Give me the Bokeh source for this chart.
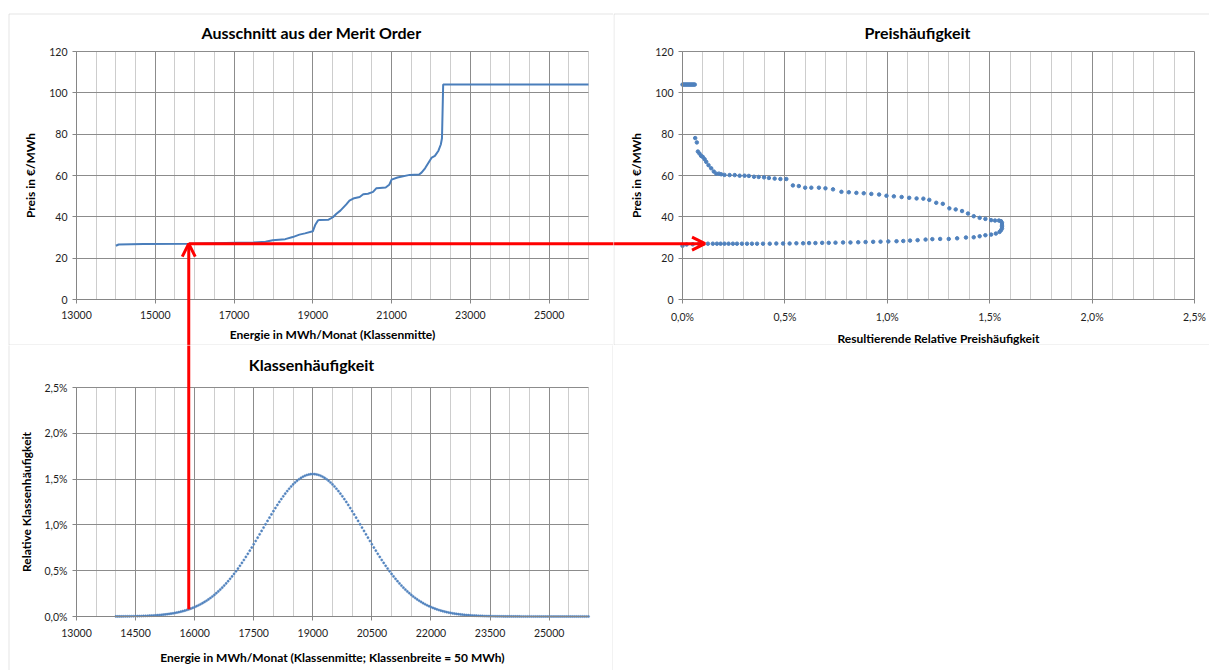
from bokeh.plotting import figure
from bokeh.layouts import column, row
from bokeh.models import (FixedTicker, Range1d, Arrow, OpenHead, BoxAnnotation,
                          CustomJSTickFormatter, Label)
from bokeh.embed import file_html
from bokeh.resources import INLINE

# ---------------- data ----------------
# Merit order (Energie in MWh/Monat, Preis in EUR/MWh)
mo_energie = [14000, 14070, 14700, 15850, 17100, 17500, 17800, 17980, 18300, 18490,
              18660, 18800, 19000, 19060, 19130, 19170, 19400, 19510, 19600, 19700,
              19850, 19930, 20050, 20190, 20280, 20400, 20530, 20610, 20700, 20850,
              20940, 21000, 21150, 21460, 21700, 21760, 21850, 22020, 22100, 22190,
              22250, 22280, 22310, 26000]
mo_preis = [26.0, 26.6, 26.9, 27.0, 27.5, 27.6, 27.9, 28.7, 29.2, 30.2,
            31.4, 32.0, 33.0, 36.0, 38.2, 38.5, 38.6, 39.8, 41.5, 43.0,
            46.0, 47.8, 49.0, 49.6, 50.9, 51.2, 52.1, 53.8, 54.0, 54.2,
            55.5, 58.0, 59.0, 60.3, 60.5, 61.4, 63.5, 68.7, 69.5, 72.0,
            75.0, 78.0, 104.0, 104.0]

# Resultierende relative Preishaeufigkeit (in %) and price (EUR/MWh)
ph_haeufigkeit = [0.000, 0.005, 0.010, 0.015, 0.020, 0.025, 0.030, 0.035, 0.040, 0.045, 0.050, 0.055, 0.060,
                  0.062, 0.070, 0.075, 0.083, 0.091, 0.099, 0.108, 0.116, 0.127, 0.140, 0.153, 0.165,
                  0.178, 0.189, 0.205, 0.230, 0.255, 0.279, 0.303, 0.324, 0.349, 0.372, 0.398, 0.422,
                  0.450, 0.478, 0.507, 0.539, 0.568, 0.599, 0.629, 0.666, 0.698, 0.735, 0.776, 0.812,
                  0.849, 0.885, 0.922, 0.960, 0.996, 1.032, 1.070, 1.107, 1.143, 1.176, 1.205, 1.239,
                  1.271, 1.303, 1.334, 1.365, 1.394, 1.422, 1.451, 1.479, 1.507, 1.526, 1.545, 1.555,
                  1.560, 1.560, 1.560, 1.560, 1.555, 1.548, 1.530, 1.507, 1.479, 1.451, 1.422, 1.384,
                  1.341, 1.300, 1.258, 1.220, 1.187, 1.148, 1.111, 1.078, 1.045, 1.005, 0.967, 0.931,
                  0.894, 0.858, 0.820, 0.784, 0.747, 0.714, 0.682, 0.649, 0.618, 0.589, 0.556, 0.523,
                  0.491, 0.458, 0.426, 0.393, 0.364, 0.339, 0.315, 0.290, 0.266, 0.246, 0.225, 0.205,
                  0.186, 0.168, 0.148, 0.124, 0.100, 0.080, 0.050, 0.020, 0.000]
ph_preis = [104.0, 104.0, 104.0, 104.0, 104.0, 104.0, 104.0, 104.0, 104.0, 104.0, 104.0, 104.0, 104.0,
            78.1, 76.0, 71.6, 70.6, 69.5, 69.0, 67.9, 66.6, 65.0, 63.5, 61.9, 60.9,
            60.9, 60.6, 60.3, 60.2, 60.2, 59.9, 59.9, 59.8, 59.4, 59.3, 59.1, 58.8,
            58.5, 58.3, 58.3, 55.2, 54.9, 54.1, 54.1, 54.1, 53.8, 53.3, 52.1, 51.9,
            51.6, 51.4, 51.1, 50.8, 50.2, 49.9, 49.6, 49.2, 48.9, 48.8, 48.2, 46.8,
            46.3, 44.1, 43.6, 42.8, 41.6, 40.3, 39.5, 39.0, 38.4, 38.2, 38.2, 37.9,
            37.1, 36.0, 35.2, 34.4, 33.5, 32.7, 31.9, 31.4, 31.1, 30.6, 30.1, 30.0,
            29.6, 29.3, 29.3, 29.2, 29.0, 28.7, 28.5, 28.3, 28.2, 28.1, 28.0, 27.9,
            27.8, 27.7, 27.6, 27.6, 27.5, 27.4, 27.4, 27.3, 27.3, 27.2, 27.2, 27.1,
            27.1, 27.1, 27.0, 27.0, 27.0, 27.0, 27.0, 27.0, 27.0, 27.0, 27.0, 27.0,
            27.0, 27.0, 27.0, 27.0, 26.9, 26.9, 26.7, 26.6, 26.0]

# Klassenhaeufigkeit: class centres (class width 50 MWh) and relative frequency in %
klassen_mitte = list(range(14000, 26001, 50))
klassen_haeufigkeit = [
    0.0008, 0.0009, 0.0011, 0.0013, 0.0015, 0.0017, 0.0020, 0.0023, 0.0026, 0.0030,
    0.0034, 0.0039, 0.0045, 0.0051, 0.0058, 0.0066, 0.0076, 0.0086, 0.0097, 0.0110,
    0.0124, 0.0140, 0.0158, 0.0177, 0.0199, 0.0223, 0.0249, 0.0279, 0.0311, 0.0346,
    0.0385, 0.0428, 0.0474, 0.0525, 0.0581, 0.0641, 0.0707, 0.0778, 0.0855, 0.0938,
    0.1027, 0.1124, 0.1228, 0.1339, 0.1458, 0.1586, 0.1722, 0.1867, 0.2021, 0.2185,
    0.2358, 0.2541, 0.2734, 0.2937, 0.3151, 0.3375, 0.3609, 0.3854, 0.4109, 0.4374,
    0.4650, 0.4935, 0.5230, 0.5535, 0.5848, 0.6170, 0.6500, 0.6837, 0.7181, 0.7530,
    0.7885, 0.8244, 0.8606, 0.8971, 0.9337, 0.9703, 1.0068, 1.0432, 1.0792, 1.1148,
    1.1499, 1.1842, 1.2177, 1.2503, 1.2818, 1.3122, 1.3412, 1.3688, 1.3949, 1.4193,
    1.4420, 1.4628, 1.4817, 1.4985, 1.5133, 1.5259, 1.5363, 1.5445, 1.5503, 1.5538,
    1.5550,
    1.5538, 1.5503, 1.5445, 1.5363, 1.5259, 1.5133, 1.4985, 1.4817, 1.4628,
    1.4420, 1.4193, 1.3949, 1.3688, 1.3412, 1.3122, 1.2818, 1.2503, 1.2177, 1.1842,
    1.1499, 1.1148, 1.0792, 1.0432, 1.0068, 0.9703, 0.9337, 0.8971, 0.8606, 0.8244,
    0.7885, 0.7530, 0.7181, 0.6837, 0.6500, 0.6170, 0.5848, 0.5535, 0.5230, 0.4935,
    0.4650, 0.4374, 0.4109, 0.3854, 0.3609, 0.3375, 0.3151, 0.2937, 0.2734, 0.2541,
    0.2358, 0.2185, 0.2021, 0.1867, 0.1722, 0.1586, 0.1458, 0.1339, 0.1228, 0.1124,
    0.1027, 0.0938, 0.0855, 0.0778, 0.0707, 0.0641, 0.0581, 0.0525, 0.0474, 0.0428,
    0.0385, 0.0346, 0.0311, 0.0279, 0.0249, 0.0223, 0.0199, 0.0177, 0.0158, 0.0140,
    0.0124, 0.0110, 0.0097, 0.0086, 0.0076, 0.0066, 0.0058, 0.0051, 0.0045, 0.0039,
    0.0034, 0.0030, 0.0026, 0.0023, 0.0020, 0.0017, 0.0015, 0.0013, 0.0011, 0.0009,
    0.0008, 0.0007, 0.0006, 0.0005, 0.0004, 0.0004, 0.0003, 0.0003, 0.0002, 0.0002,
    0.0002, 0.0001, 0.0001, 0.0001, 0.0001, 0.0001,
    0.0, 0.0, 0.0, 0.0, 0.0, 0.0, 0.0, 0.0, 0.0, 0.0,
    0.0, 0.0, 0.0, 0.0, 0.0, 0.0, 0.0, 0.0, 0.0, 0.0,
    0.0, 0.0, 0.0, 0.0, 0.0]

# Highlighted example (red arrows)
markierung_energie = 15850
markierung_preis = 27.0
markierung_haeufigkeit = 0.11

# Axis ranges and ticks
energie_bereich = (13000, 26000)
preis_bereich = (0, 120)
ph_bereich = (0.0, 2.5)
kl_bereich = (0.0, 2.5)
mo_x_major = [13000, 15000, 17000, 19000, 21000, 23000, 25000]
kl_x_major = [13000, 14500, 16000, 17500, 19000, 20500, 22000, 23500, 25000]
energie_minor_all = list(range(13000, 26001, 500))
preis_major = [0, 20, 40, 60, 80, 100, 120]
ph_x_major = [0.0, 0.5, 1.0, 1.5, 2.0, 2.5]
ph_x_minor = [round(i * 0.1, 1) for i in range(26) if i % 5]
kl_y_major = [0.0, 0.5, 1.0, 1.5, 2.0, 2.5]

# ---------------- styling ----------------
FONT = "Lato"
BLUE_LINE = "#4a7ebb"
BLUE_DOT = "#4f81bd"
RED = "#ff0000"
MAJOR_GRID = "#8c8c8c"
MINOR_GRID = "#cdcdcd"
AXIS = "#868686"
BORDER = "#a6a6a6"
TXT = "#1e1e1e"

pct_fmt = CustomJSTickFormatter(code="return tick.toFixed(1).replace('.', ',') + '%';")


class Panel:
    """A figure whose frame fills the whole canvas; the data area sits at
    the given pixel box, axes are pinned to the data area's edges."""

    def __init__(self, w, h, box, xr, yr):
        l, r, t, b = box
        (x0, x1), (y0, y1) = xr, yr
        self.sx = (r - l) / (x1 - x0)
        self.sy = (b - t) / (y1 - y0)
        self.xs = x0 - l / self.sx
        self.xe = x1 + (w - r) / self.sx
        self.ys = y0 - (h - b) / self.sy
        self.ye = y1 + t / self.sy
        p = figure(width=w, height=h, x_range=Range1d(self.xs, self.xe),
                   y_range=Range1d(self.ys, self.ye), output_backend="svg",
                   toolbar_location=None, min_border=0, title=None)
        p.background_fill_color = "white"
        p.border_fill_color = "white"
        p.outline_line_color = None
        p.xaxis.fixed_location = y0
        p.yaxis.fixed_location = x0
        p.xaxis.bounds = xr
        p.yaxis.bounds = yr
        for ax in (p.xaxis, p.yaxis):
            ax.axis_line_color = AXIS
            ax.major_tick_line_color = AXIS
            ax.major_tick_out = 4
            ax.major_tick_in = 0
            ax.minor_tick_out = 0
            ax.minor_tick_in = 0
            ax.major_label_text_font = FONT
            ax.major_label_text_font_size = "10.5px"
            ax.major_label_text_color = TXT
            ax.axis_label_text_font = FONT
            ax.axis_label_text_font_size = "12px"
            ax.axis_label_text_font_style = "bold"
            ax.axis_label_text_color = "black"
        p.xaxis.major_label_standoff = 7
        p.yaxis.major_label_standoff = 5
        p.xaxis.axis_label_standoff = 5
        p.yaxis.axis_label_standoff = 8
        self.p = p
        self.xr, self.yr = xr, yr

    def X(self, px):
        return self.xs + px / self.sx

    def Y(self, py):
        return self.ye - py / self.sy

    def ticks(self, xmaj, xmin, ymaj):
        p = self.p
        tx = FixedTicker(ticks=xmaj, minor_ticks=xmin)
        ty = FixedTicker(ticks=ymaj, minor_ticks=[])
        p.xaxis.ticker = tx
        p.yaxis.ticker = ty
        p.xgrid.ticker = tx
        p.ygrid.ticker = ty
        p.xgrid.bounds = self.xr
        p.ygrid.bounds = self.yr
        try:
            p.xgrid.cross_bounds = self.yr
            p.ygrid.cross_bounds = self.xr
            p.xgrid.grid_line_color = MAJOR_GRID
            p.xgrid.minor_grid_line_color = MINOR_GRID
            p.ygrid.grid_line_color = MAJOR_GRID
            p.ygrid.minor_grid_line_color = None
        except AttributeError:
            p.grid.visible = False
            y0, y1 = self.yr
            x0, x1 = self.xr
            p.segment(x0=xmin, y0=[y0] * len(xmin), x1=xmin, y1=[y1] * len(xmin),
                      line_color=MINOR_GRID, line_width=1)
            p.segment(x0=xmaj, y0=[y0] * len(xmaj), x1=xmaj, y1=[y1] * len(xmaj),
                      line_color=MAJOR_GRID, line_width=1)
            p.segment(x0=[x0] * len(ymaj), y0=ymaj, x1=[x1] * len(ymaj), y1=ymaj,
                      line_color=MAJOR_GRID, line_width=1)

    def title(self, text, cx, cy, size="16px"):
        self.p.add_layout(Label(x=self.X(cx), y=self.Y(cy), text=text,
                                text_align="center", text_baseline="middle",
                                text_font=FONT, text_font_size=size,
                                text_font_style="bold", text_color="black"))

    def border(self, left, right, top, bottom):
        self.p.add_layout(BoxAnnotation(left=left, right=right, top=top, bottom=bottom,
                                        left_units="canvas", right_units="canvas",
                                        top_units="canvas", bottom_units="canvas",
                                        fill_alpha=0, fill_color=None,
                                        line_color=BORDER, line_width=1))


# ---- Top-left: Merit Order ----
a = Panel(613, 345, (76, 588, 51, 299), energie_bereich, preis_bereich)
a.ticks(mo_x_major, [v for v in energie_minor_all if v not in mo_x_major], preis_major)
a.p.xaxis.axis_label = "Energie in MWh/Monat (Klassenmitte)"
a.p.yaxis.axis_label = "Preis in €/MWh"
a.p.line(mo_energie, mo_preis, line_color=BLUE_LINE, line_width=2)
a.title("Ausschnitt aus der Merit Order", 311, 32)

# ---- Top-right: Preishaeufigkeit ----
b = Panel(596, 345, (69, 581, 51, 299), ph_bereich, preis_bereich)
b.ticks(ph_x_major, ph_x_minor, preis_major)
b.p.xaxis.formatter = pct_fmt
b.p.xaxis.axis_label = "Resultierende Relative Preishäufigkeit"
b.p.yaxis.axis_label = "Preis in €/MWh"
b.p.scatter(ph_haeufigkeit, ph_preis, size=3.5, fill_color=BLUE_DOT, line_color=BLUE_DOT)
b.title("Preishäufigkeit", 304, 32)

# ---- Bottom-left: Klassenhaeufigkeit ----
c = Panel(613, 325, (76, 588, 42, 271), energie_bereich, kl_bereich)
c.ticks(kl_x_major, [v for v in energie_minor_all if v not in kl_x_major], kl_y_major)
c.p.yaxis.formatter = pct_fmt
c.p.xaxis.major_label_standoff = 8
c.p.xaxis.axis_label_standoff = 10
c.p.xaxis.axis_label = "Energie in MWh/Monat (Klassenmitte; Klassenbreite = 50 MWh)"
c.p.yaxis.axis_label = "Relative Klassenhäufigkeit"
c.p.scatter(klassen_mitte, klassen_haeufigkeit, size=2.2, fill_color=BLUE_DOT,
            line_color=BLUE_DOT, line_width=0.5)
c.title("Klassenhäufigkeit", 311, 19)

# ---- red arrows ----
start_h = klassen_haeufigkeit[klassen_mitte.index(markierung_energie)]
c.p.add_layout(Arrow(end=None, x_start=markierung_energie, y_start=start_h,
                     x_end=markierung_energie, y_end=c.ye + 1.0,
                     line_color=RED, line_width=3))
a.p.add_layout(Arrow(end=OpenHead(size=13, line_color=RED, line_width=3),
                     x_start=markierung_energie, y_start=a.ys - 20,
                     x_end=markierung_energie, y_end=markierung_preis,
                     line_color=RED, line_width=3))
a.p.add_layout(Arrow(end=None, x_start=markierung_energie, y_start=markierung_preis,
                     x_end=a.xe + 2000, y_end=markierung_preis,
                     line_color=RED, line_width=3))
b.p.add_layout(Arrow(end=OpenHead(size=13, line_color=RED, line_width=3),
                     x_start=b.xs - 0.5, y_start=markierung_preis,
                     x_end=markierung_haeufigkeit, y_end=markierung_preis,
                     line_color=RED, line_width=3))

# ---- panel borders (spreadsheet chart frames) ----
a.border(8.5, 3000, 13.5, 344.5)
b.border(0.5, 3000, 13.5, 344.5)
c.border(8.5, 612.5, -20, 3000)

layout = column(row(a.p, b.p), c.p)

open("out.html", "w").write(file_html(layout, INLINE))
